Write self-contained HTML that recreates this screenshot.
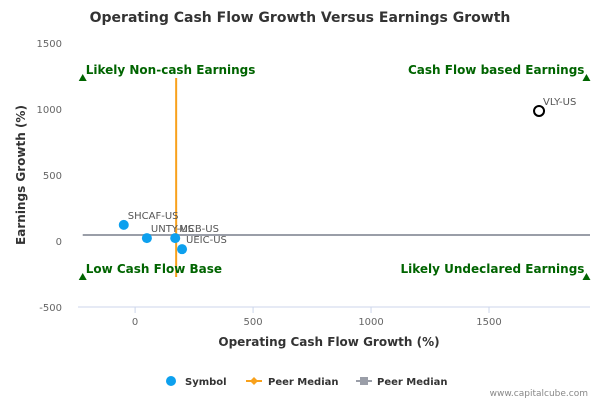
<!DOCTYPE html>
<html><head><meta charset="utf-8"><style>
body{margin:0;background:#fff;font-family:"DejaVu Sans","Liberation Sans",sans-serif}
svg{display:block}
</style></head><body>
<svg id="chart" width="600" height="400" xmlns="http://www.w3.org/2000/svg">
<text x="300" y="22" text-anchor="middle" font-size="14" font-weight="bold" fill="#333">Operating Cash Flow Growth Versus Earnings Growth</text>
<g id="grid"></g>
<g id="marks"></g>
<text x="329" y="346" text-anchor="middle" font-size="12" font-weight="bold" fill="#333">Operating Cash Flow Growth (%)</text>
<text transform="translate(25,175) rotate(-90)" text-anchor="middle" font-size="12" font-weight="bold" fill="#333">Earnings Growth (%)</text>
<g font-size="10" font-weight="bold" fill="#333">
<g><circle cx="171" cy="381" r="5" fill="#0da0ee"/><text x="185" y="385">Symbol</text></g>
<g><line x1="246" y1="381" x2="262" y2="381" stroke="#f8a11c" stroke-width="2"/><path d="M254 377 L258 381 L254 385 L250 381Z" fill="#f8a11c"/><text x="268" y="385">Peer Median</text></g>
<g><line x1="356" y1="381" x2="372" y2="381" stroke="#9a9ea8" stroke-width="2"/><rect x="360" y="377" width="8" height="8" fill="#9a9ea8"/><text x="377" y="385">Peer Median</text></g>
</g>
<text x="588" y="396" text-anchor="end" font-size="9" fill="#888">www.capitalcube.com</text>
</svg>
<script>
const symbols=["SHCAF-US","UNTY-US","MCB-US","UEIC-US","VLY-US"];
const ocfGrowth=[-48,50,170,199,1712];
const earnGrowth=[122,22,22,-62,985];
const xTicks=[0,500,1000,1500];
const yTicks=[-500,0,500,1000,1500];
const peerMedianX=[174];
const peerMedianY=[45];
const quadrantLabels=["Likely Non-cash Earnings","Cash Flow based Earnings","Low Cash Flow Base","Likely Undeclared Earnings"];
const L=78,R=590,T=43,B=307;
const xMin=-242,xMax=1928,yMin=-500,yMax=1500;
const sx=v=>L+(v-xMin)/(xMax-xMin)*(R-L);
const sy=v=>B-(v-yMin)/(yMax-yMin)*(B-T);
const NS="http://www.w3.org/2000/svg";
const g=document.getElementById("grid"),m=document.getElementById("marks");
function mk(p,tag,a){const e=document.createElementNS(NS,tag);for(const k in a)e.setAttribute(k,a[k]);p.appendChild(e);return e;}
let ax=mk(g,"line",{x1:L,y1:B,x2:R,y2:B,stroke:"#ccd6eb"});


xTicks.forEach(v=>{
 const t=mk(g,"text",{x:sx(v),y:B+18,"text-anchor":"middle","font-size":10,fill:"#666"});t.textContent=v;
 
 
 const tk=mk(g,"line",{x1:sx(v),y1:B,x2:sx(v),y2:B+6,stroke:"#ccd6eb"});
 
 
});
yTicks.forEach(v=>{
 const t=mk(g,"text",{x:62,y:sy(v)+4,"text-anchor":"end","font-size":10,fill:"#666"});t.textContent=v;
 
 
});
const yTop=1235,yBot=-273;
let vl=mk(m,"line",{x1:sx(peerMedianX[0]),y1:sy(yTop),x2:sx(peerMedianX[0]),y2:sy(yBot),stroke:"#f8a11c","stroke-width":2});


let hl=mk(m,"line",{x1:sx(xMin+20),y1:sy(peerMedianY[0]),x2:R,y2:sy(peerMedianY[0]),stroke:"#9a9ea8","stroke-width":2});


const qx=[xMin+20,xMax-15,xMin+20,xMax-15],qy=[yTop,yTop,yBot,yBot],qa=["start","end","start","end"];
quadrantLabels.forEach((s,i)=>{
 const x=sx(qx[i]),y=sy(qy[i]);
 const tr=mk(m,"path",{d:`M${x} ${y-4} L${x+4} ${y+3} L${x-4} ${y+3}Z`,fill:"#006400"});
 
 
 const t=mk(m,"text",{x:qa[i]=="start"?x+3:x-2,y:y-4,"text-anchor":qa[i],"font-size":12,"font-weight":"bold",fill:"#006400"});t.textContent=s;
 
 
});
symbols.forEach((s,i)=>{
 const x=sx(ocfGrowth[i]),y=sy(earnGrowth[i]);
 const last=s==="VLY-US";
 const c=mk(m,"circle",last?{cx:x,cy:y,r:5,fill:"#fff",stroke:"#000","stroke-width":2}:{cx:x,cy:y,r:5,fill:"#0da0ee"});
 
 
 const t=mk(m,"text",{x:x+4,y:y-6,"font-size":10,fill:"#555"});t.textContent=s;
 
 
});
</script>
</body></html>
